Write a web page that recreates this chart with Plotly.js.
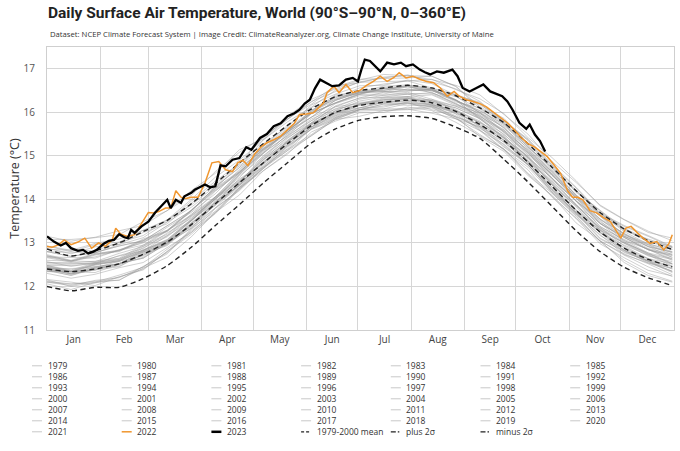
<!DOCTYPE html>
<html><head><meta charset="utf-8">
<script src="https://cdn.plot.ly/plotly-3.0.1.min.js"></script>
<style>html,body{margin:0;padding:0;background:#fff}#chart{width:680px;height:451px}</style>
</head><body><div id="chart"></div>
<script>
// ---- data (day of year offsets from Jan 1) ----
const monthLabels = ['Jan','Feb','Mar','Apr','May','Jun','Jul','Aug','Sep','Oct','Nov','Dec'];
const gridDays = [0,14,28,42,56,70,84,98,112,126,140,154,168,182,196,210,224,238,252,266,280,294,308,322,336,350,364];
const climMean = [12.40,12.34,12.40,12.52,12.74,13.02,13.42,13.90,14.38,14.84,15.28,15.70,16.00,16.16,16.23,16.28,16.22,16.02,15.72,15.35,14.85,14.30,13.75,13.25,12.88,12.62,12.45];
const plus2sd = [12.86,12.70,12.82,13.00,13.26,13.52,13.90,14.36,14.84,15.28,15.70,16.08,16.36,16.50,16.56,16.62,16.56,16.38,16.10,15.76,15.28,14.74,14.20,13.70,13.32,13.05,12.85];
const minus2sd = [12.00,11.90,11.98,11.98,12.18,12.48,12.90,13.40,13.88,14.38,14.84,15.30,15.62,15.82,15.90,15.92,15.86,15.66,15.40,14.92,14.40,13.84,13.28,12.80,12.44,12.20,12.02];

const days2022 = [0,3,7,10,14,18,22,26,30,34,38,40,43,47,51,55,59,62,65,69,72,75,78,81,84,88,92,96,100,104,108,111,114,117,121,125,128,132,136,140,144,147,151,155,158,161,163,167,170,174,178,182,186,190,194,198,202,205,209,213,217,221,225,229,233,237,240,244,248,252,256,260,264,268,272,276,280,284,288,291,295,299,303,306,309,312,316,320,324,328,331,334,337,340,344,347,351,355,359,362,364];
const temps2022 = [12.92,12.90,12.96,13.07,12.96,13.02,13.11,12.88,13.00,12.92,13.07,13.34,13.20,13.15,13.19,13.45,13.70,13.69,13.72,13.80,13.80,14.20,14.05,14.02,14.05,14.05,14.38,14.84,14.87,14.68,14.64,14.84,14.90,14.78,15.05,15.22,15.30,15.37,15.45,15.60,15.75,15.95,15.96,15.99,16.10,16.22,16.45,16.60,16.45,16.64,16.45,16.50,16.62,16.71,16.83,16.71,16.80,16.91,16.79,16.83,16.76,16.71,16.68,16.56,16.37,16.48,16.37,16.29,16.25,16.20,16.12,16.00,15.90,15.76,15.60,15.42,15.28,15.20,15.08,14.99,14.80,14.60,14.20,14.05,14.05,13.99,13.74,13.69,13.58,13.49,13.30,13.11,13.34,13.38,13.22,13.11,12.99,13.03,12.84,12.98,13.19];

const days2023 = [0,4,8,11,14,18,21,24,27,29,33,36,39,42,45,47,49,51,55,59,63,67,70,72,75,78,80,84,86,88,92,95,98,101,104,108,112,116,119,124,128,132,136,140,144,147,150,153,156,159,162,166,170,174,178,181,183,185,188,191,194,198,202,206,209,213,217,220,223,227,231,236,239,242,246,250,254,258,262,265,268,271,275,279,281,284,287,290];
const temps2023 = [13.15,13.03,12.94,13.00,12.88,12.82,12.84,12.76,12.80,12.84,12.98,13.05,13.07,13.20,13.13,13.11,13.30,13.23,13.38,13.49,13.70,13.88,13.99,13.80,13.99,13.92,14.07,14.15,14.22,14.26,14.34,14.28,14.30,14.78,14.76,14.91,14.95,15.20,15.14,15.41,15.50,15.68,15.75,15.91,15.98,16.06,16.20,16.29,16.55,16.75,16.68,16.60,16.62,16.75,16.79,16.71,16.98,17.21,17.18,17.05,16.94,17.14,17.10,17.14,17.06,17.10,16.98,16.92,16.87,16.94,16.91,16.98,16.83,16.56,16.48,16.56,16.64,16.48,16.41,16.37,16.25,16.06,15.76,15.62,15.72,15.49,15.34,15.10];

// earlier years, sampled on gridDays
const t1979 = [12.16,12.10,12.02,12.22,12.38,12.80,13.24,13.67,14.23,14.74,15.12,15.63,15.88,16.07,16.08,16.20,16.12,15.85,15.67,15.36,14.78,14.28,13.66,13.25,12.83,12.54,12.42];
const t1980 = [12.38,12.25,12.41,12.47,12.74,12.94,13.41,13.87,14.27,14.81,15.22,15.62,15.99,16.06,16.19,16.22,16.13,16.00,15.70,15.25,14.80,14.17,13.69,13.17,12.84,12.57,12.35];
const t1981 = [12.34,12.34,12.38,12.45,12.75,13.00,13.46,13.86,14.40,14.75,15.27,15.66,15.90,16.10,16.23,16.20,16.19,15.96,15.58,15.27,14.80,14.17,13.65,13.19,12.73,12.54,12.35];
const t1982 = [12.30,12.19,12.28,12.43,12.55,12.89,13.24,13.79,14.23,14.71,15.12,15.46,15.85,16.03,16.05,16.06,16.10,15.86,15.49,15.15,14.60,14.14,13.61,13.03,12.60,12.30,12.12];
const t1983 = [12.48,12.38,12.54,12.64,12.84,13.08,13.55,14.06,14.45,14.82,15.30,15.71,15.93,16.16,16.25,16.32,16.16,16.00,15.60,15.15,14.74,14.15,13.63,13.04,12.75,12.52,12.27];
const t1984 = [12.12,12.06,12.08,12.22,12.40,12.80,13.20,13.70,14.26,14.66,15.04,15.55,15.80,15.99,16.00,16.12,16.04,15.77,15.47,15.16,14.58,14.08,13.46,13.05,12.55,12.25,12.10];
const t1985 = [12.06,11.93,12.09,12.15,12.42,12.67,13.14,13.70,14.10,14.66,15.07,15.47,15.84,15.91,16.04,16.07,15.98,15.85,15.58,15.13,14.68,14.05,13.57,13.05,12.72,12.45,12.23];
const t1986 = [12.10,12.05,12.12,12.14,12.46,12.78,13.33,13.73,14.27,14.71,15.23,15.62,15.86,16.06,16.19,16.16,16.15,15.92,15.63,15.32,14.85,14.22,13.70,13.24,12.78,12.59,12.40];
const t1987 = [12.40,12.29,12.38,12.53,12.65,12.99,13.34,13.89,14.33,14.91,15.32,15.66,16.05,16.23,16.25,16.26,16.30,16.06,15.77,15.43,14.88,14.42,13.89,13.31,12.99,12.70,12.57];
const t1988 = [12.46,12.36,12.52,12.62,12.82,13.06,13.53,14.04,14.43,14.84,15.32,15.73,15.95,16.18,16.27,16.34,16.18,16.02,15.67,15.22,14.81,14.22,13.70,13.11,12.82,12.59,12.34];
const t1989 = [12.15,12.00,12.10,12.26,12.44,12.85,13.27,13.70,14.26,14.78,15.16,15.67,15.92,16.11,16.12,16.24,16.16,15.89,15.72,15.41,14.83,14.33,13.71,13.30,12.88,12.59,12.47];
const t1990 = [12.48,12.35,12.51,12.57,12.84,13.04,13.51,13.97,14.37,14.95,15.36,15.76,16.13,16.20,16.33,16.36,16.27,16.14,15.88,15.43,14.98,14.35,13.87,13.35,13.02,12.75,12.53];
const t1991 = [12.41,12.41,12.45,12.52,12.82,13.07,13.53,13.93,14.47,14.83,15.35,15.74,15.98,16.18,16.31,16.28,16.27,16.04,15.68,15.37,14.90,14.27,13.75,13.29,12.83,12.64,12.45];
const t1992 = [12.40,12.29,12.38,12.53,12.65,12.99,13.34,13.89,14.33,14.74,15.15,15.49,15.88,16.06,16.08,16.09,16.13,15.89,15.44,15.10,14.55,14.09,13.56,12.98,12.66,12.37,12.24];
const t1993 = [12.10,12.02,12.14,12.20,12.45,12.75,13.30,13.81,14.20,14.72,15.20,15.61,15.83,16.06,16.15,16.22,16.06,15.90,15.65,15.20,14.79,14.20,13.68,13.09,12.80,12.57,12.32];
const t1994 = [12.35,12.34,12.32,12.51,12.67,13.03,13.37,13.80,14.36,14.86,15.24,15.75,16.00,16.19,16.20,16.32,16.24,15.97,15.77,15.46,14.88,14.38,13.76,13.35,12.93,12.64,12.52];
const t1995 = [12.44,12.34,12.50,12.60,12.80,13.04,13.51,14.02,14.41,14.92,15.40,15.81,16.03,16.26,16.35,16.42,16.26,16.10,15.85,15.40,14.99,14.40,13.88,13.29,13.00,12.77,12.52];
const t1996 = [12.41,12.28,12.44,12.50,12.77,12.97,13.44,13.90,14.30,14.85,15.26,15.66,16.03,16.10,16.23,16.26,16.17,16.04,15.76,15.31,14.86,14.23,13.75,13.23,12.90,12.63,12.41];
const t1997 = [12.45,12.34,12.43,12.58,12.70,13.04,13.39,13.94,14.38,15.01,15.42,15.76,16.15,16.33,16.35,16.36,16.40,16.16,15.99,15.65,15.10,14.64,14.11,13.53,13.21,12.92,12.79];
const t1998 = [12.85,12.84,12.82,13.01,13.17,13.53,13.87,14.30,14.86,15.16,15.54,16.05,16.30,16.49,16.50,16.62,16.54,16.27,15.87,15.56,14.98,14.48,13.86,13.45,13.03,12.74,12.62];
const t1999 = [12.36,12.26,12.42,12.52,12.72,12.96,13.43,13.94,14.33,14.86,15.34,15.75,15.97,16.20,16.29,16.36,16.20,16.04,15.80,15.35,14.94,14.35,13.83,13.24,12.95,12.72,12.47];
const t2000 = [12.43,12.30,12.46,12.52,12.79,12.99,13.46,13.92,14.32,14.91,15.32,15.72,16.09,16.16,16.29,16.32,16.23,16.10,15.86,15.41,14.96,14.33,13.85,13.33,13.00,12.73,12.51];
const t2001 = [12.48,12.48,12.52,12.59,12.89,13.14,13.60,14.00,14.54,14.98,15.50,15.89,16.13,16.33,16.46,16.43,16.42,16.19,15.90,15.59,15.12,14.49,13.97,13.51,13.05,12.86,12.67];
const t2002 = [12.70,12.59,12.68,12.83,12.95,13.29,13.64,14.19,14.63,15.14,15.55,15.89,16.28,16.46,16.48,16.49,16.53,16.29,15.94,15.60,15.05,14.59,14.06,13.48,13.16,12.87,12.74];
const t2003 = [12.66,12.56,12.72,12.82,13.02,13.26,13.73,14.24,14.63,15.10,15.58,15.99,16.21,16.44,16.53,16.60,16.44,16.28,16.00,15.55,15.14,14.55,14.03,13.44,13.15,12.92,12.67];
const t2004 = [12.60,12.59,12.57,12.76,12.92,13.28,13.62,14.05,14.61,15.08,15.46,15.97,16.22,16.41,16.42,16.54,16.46,16.19,15.97,15.66,15.08,14.58,13.96,13.55,13.13,12.84,12.72];
const t2005 = [12.73,12.60,12.76,12.82,13.09,13.29,13.76,14.22,14.62,15.17,15.58,15.98,16.35,16.42,16.55,16.58,16.49,16.36,16.08,15.63,15.18,14.55,14.07,13.55,13.22,12.95,12.73];
const t2006 = [12.54,12.54,12.58,12.65,12.95,13.20,13.66,14.06,14.60,15.07,15.59,15.98,16.22,16.42,16.55,16.52,16.51,16.28,16.03,15.72,15.25,14.62,14.10,13.64,13.18,12.99,12.80];
const t2007 = [12.80,12.69,12.78,12.93,13.05,13.39,13.74,14.29,14.73,15.14,15.55,15.89,16.28,16.46,16.48,16.49,16.53,16.29,15.84,15.50,14.95,14.49,13.96,13.38,13.06,12.77,12.64];
const t2008 = [12.43,12.33,12.49,12.59,12.79,13.03,13.50,14.01,14.40,14.96,15.44,15.85,16.07,16.30,16.39,16.46,16.30,16.14,15.93,15.48,15.07,14.48,13.96,13.37,13.08,12.85,12.60];
const t2009 = [12.55,12.54,12.52,12.71,12.87,13.23,13.57,14.00,14.56,15.13,15.51,16.02,16.27,16.46,16.47,16.59,16.51,16.24,16.10,15.79,15.21,14.71,14.09,13.68,13.26,12.97,12.85];
const t2010 = [12.88,12.75,12.91,12.97,13.24,13.44,13.91,14.37,14.77,15.19,15.60,16.00,16.37,16.44,16.57,16.60,16.51,16.38,15.98,15.53,15.08,14.45,13.97,13.45,13.12,12.85,12.63];
const t2011 = [12.57,12.46,12.55,12.70,12.82,13.16,13.51,14.06,14.50,15.06,15.47,15.81,16.20,16.38,16.40,16.41,16.45,16.21,15.91,15.57,15.02,14.56,14.03,13.45,13.13,12.84,12.71];
const t2012 = [12.51,12.51,12.55,12.62,12.92,13.17,13.63,14.03,14.57,15.06,15.58,15.97,16.21,16.41,16.54,16.51,16.50,16.27,16.00,15.69,15.22,14.59,14.07,13.61,13.15,12.96,12.77];
const t2013 = [12.68,12.67,12.65,12.84,13.00,13.36,13.70,14.13,14.69,15.16,15.54,16.05,16.30,16.49,16.50,16.62,16.54,16.27,16.04,15.73,15.15,14.65,14.03,13.62,13.20,12.91,12.79];
const t2014 = [12.71,12.58,12.74,12.80,13.07,13.27,13.74,14.20,14.60,15.22,15.63,16.03,16.40,16.47,16.60,16.63,16.54,16.41,16.20,15.75,15.30,14.67,14.19,13.67,13.34,13.07,12.85];
const t2015 = [12.80,12.69,12.78,12.93,13.05,13.39,13.74,14.29,14.73,15.37,15.78,16.12,16.51,16.69,16.71,16.72,16.76,16.52,16.31,15.97,15.42,14.96,14.43,13.85,13.53,13.24,13.11];
const t2016 = [13.08,13.08,13.12,13.19,13.49,13.74,14.20,14.60,15.14,15.39,15.91,16.30,16.54,16.74,16.87,16.84,16.83,16.60,16.13,15.82,15.35,14.72,14.20,13.74,13.28,13.09,12.90];
const t2017 = [12.93,12.83,12.99,13.09,13.29,13.53,14.00,14.51,14.90,15.36,15.84,16.25,16.47,16.70,16.79,16.86,16.70,16.54,16.25,15.80,15.39,14.80,14.28,13.69,13.40,13.17,12.92];
const t2018 = [12.80,12.79,12.77,12.96,13.12,13.48,13.82,14.25,14.81,15.28,15.66,16.17,16.42,16.61,16.62,16.74,16.66,16.39,16.17,15.86,15.28,14.78,14.16,13.75,13.33,13.04,12.92];
const t2019 = [12.93,12.80,12.96,13.02,13.29,13.49,13.96,14.42,14.82,15.43,15.84,16.24,16.61,16.68,16.81,16.84,16.75,16.62,16.40,15.95,15.50,14.87,14.39,13.87,13.54,13.27,13.05];
const t2020 = [13.15,13.04,13.13,13.28,13.40,13.74,14.09,14.64,15.08,15.44,15.85,16.19,16.58,16.76,16.78,16.79,16.83,16.59,16.09,15.75,15.20,14.74,14.21,13.63,13.31,13.02,12.89];
const t2021 = [12.68,12.58,12.74,12.84,13.04,13.28,13.75,14.26,14.65,15.22,15.70,16.11,16.33,16.56,16.65,16.72,16.56,16.40,16.23,15.78,15.37,14.78,14.26,13.67,13.38,13.15,12.90];

const grayYears = [1979,1980,1981,1982,1983,1984,1985,1986,1987,1988,1989,1990,1991,1992,1993,1994,1995,1996,1997,1998,1999,2000,2001,2002,2003,2004,2005,2006,2007,2008,2009,2010,2011,2012,2013,2014,2015,2016,2017,2018,2019,2020,2021];
const grayTemps = [t1979,t1980,t1981,t1982,t1983,t1984,t1985,t1986,t1987,t1988,t1989,t1990,t1991,t1992,t1993,t1994,t1995,t1996,t1997,t1998,t1999,t2000,t2001,t2002,t2003,t2004,t2005,t2006,t2007,t2008,t2009,t2010,t2011,t2012,t2013,t2014,t2015,t2016,t2017,t2018,t2019,t2020,t2021];

// ---- helpers ----
const DAY = 86400000, T0 = Date.UTC(2023,0,1);
const toDate = d => new Date(T0 + d*DAY).toISOString().slice(0,10);
const monthStarts = monthLabels.map((m,i)=>new Date(Date.UTC(2023,i,1)).toISOString().slice(0,10));
const monthMids = monthLabels.map((m,i)=>{const a=Date.UTC(2023,i,1), b=Date.UTC(2023,i+1,1); return new Date((a+b)/2).toISOString().slice(0,19).replace('T',' ');});

const GRAY = 'rgba(150,150,150,0.5)', ORANGE = '#f0962e', DASHP = '5px,3.5px';
const traces = [];
grayYears.forEach((yr,k)=>traces.push({x:gridDays.map(toDate), y:grayTemps[k], name:String(yr), mode:'lines', line:{color:GRAY,width:0.9}}));
traces.push({x:gridDays.map(toDate), y:climMean, name:'1979-2000 mean', mode:'lines', line:{color:'#222',width:1.4,dash:DASHP,shape:'spline',smoothing:0.6}});
traces.push({x:gridDays.map(toDate), y:plus2sd, name:'plus 2σ', mode:'lines', line:{color:'#222',width:1.4,dash:DASHP,shape:'spline',smoothing:0.6}});
traces.push({x:gridDays.map(toDate), y:minus2sd, name:'minus 2σ', mode:'lines', line:{color:'#222',width:1.4,dash:DASHP,shape:'spline',smoothing:0.6}});
traces.push({x:days2022.map(toDate), y:temps2022, name:'2022', mode:'lines', line:{color:ORANGE,width:1.5}});
traces.push({x:days2023.map(toDate), y:temps2023, name:'2023', mode:'lines', line:{color:'#000',width:2.3}});

// ---- custom legend (7 columns) ----
const legendItems = grayYears.map(y=>({t:String(y),c:'#c8c8c8',w:1,d:'solid'}))
  .concat([{t:'2022',c:ORANGE,w:1.5,d:'solid'},{t:'2023',c:'#000',w:2.5,d:'solid'},
           {t:'1979-2000 mean',c:'#222',w:1.3,d:'3px,2px'},{t:'plus 2σ',c:'#222',w:1.3,d:'5px,2px,1.5px,2px'},{t:'minus 2σ',c:'#222',w:1.3,d:'5px,2px,1.5px,2px'}]);
const PL=47, PW=627, PB=330, PH=283;
const px2x = p => (p-PL)/PW, py2y = p => (PB-p)/PH;
const annotations = [], shapes = [];
legendItems.forEach((it,i)=>{
  const col=i%7, row=Math.floor(i/7);
  const sx = 32 + col*89.7, sy = 365.8 + row*11;
  shapes.push({type:'line', xref:'paper', yref:'paper', x0:px2x(sx), x1:px2x(sx+10), y0:py2y(sy), y1:py2y(sy), line:{color:it.c,width:it.w,dash:it.d}});
  annotations.push({xref:'paper', yref:'paper', x:px2x(sx+13.5), y:py2y(sy), xanchor:'left', yanchor:'middle', text:it.t, showarrow:false, font:{size:8.5,color:'#333'}});
});
annotations.push({xref:'paper', yref:'paper', x:px2x(48), y:py2y(34.5), xanchor:'left', yanchor:'middle', showarrow:false,
  text:'Dataset: NCEP Climate Forecast System | Image Credit: ClimateReanalyzer.org, Climate Change Institute, University of Maine',
  font:{size:7.7,color:'#333'}});

const layout = {
  width:680, height:451, margin:{l:PL, r:6, t:47, b:121},
  paper_bgcolor:'#fff', plot_bgcolor:'#fff', showlegend:false, hovermode:false,
  font:{family:'"Open Sans", sans-serif', color:'#333'},
  title:{text:'Daily Surface Air Temperature, World (90°S–90°N, 0–360°E)', xref:'container', yref:'container',
         x:48/680, xanchor:'left', y:1-13/451, yanchor:'middle', font:{family:'Roboto, "Open Sans", sans-serif', size:15.5, weight:700, color:'#222'}},
  xaxis:{type:'date', range:['2023-01-01','2024-01-01'], tickmode:'array', tickvals:monthMids, ticktext:monthLabels,
         showgrid:false, ticks:'', tickfont:{size:10,color:'#444'}, showline:true, linecolor:'#cfcfcf', mirror:true, zeroline:false,
         minor:{tickmode:'array', tickvals:monthStarts, showgrid:true, gridcolor:'#d6d6d6', gridwidth:1, ticks:''}},
  yaxis:{range:[11,17.5], tick0:11, dtick:1, gridcolor:'#d6d6d6', gridwidth:1, showline:true, linecolor:'#cfcfcf', mirror:true,
         zeroline:false, ticks:'', ticklabelstandoff:9, tickfont:{size:10,color:'#555'},
         title:{text:'Temperature (°C)', font:{size:12.5,color:'#333'}, standoff:1}},
  annotations, shapes
};
Plotly.newPlot('chart', traces, layout, {staticPlot:true, displayModeBar:false});
</script></body></html>
